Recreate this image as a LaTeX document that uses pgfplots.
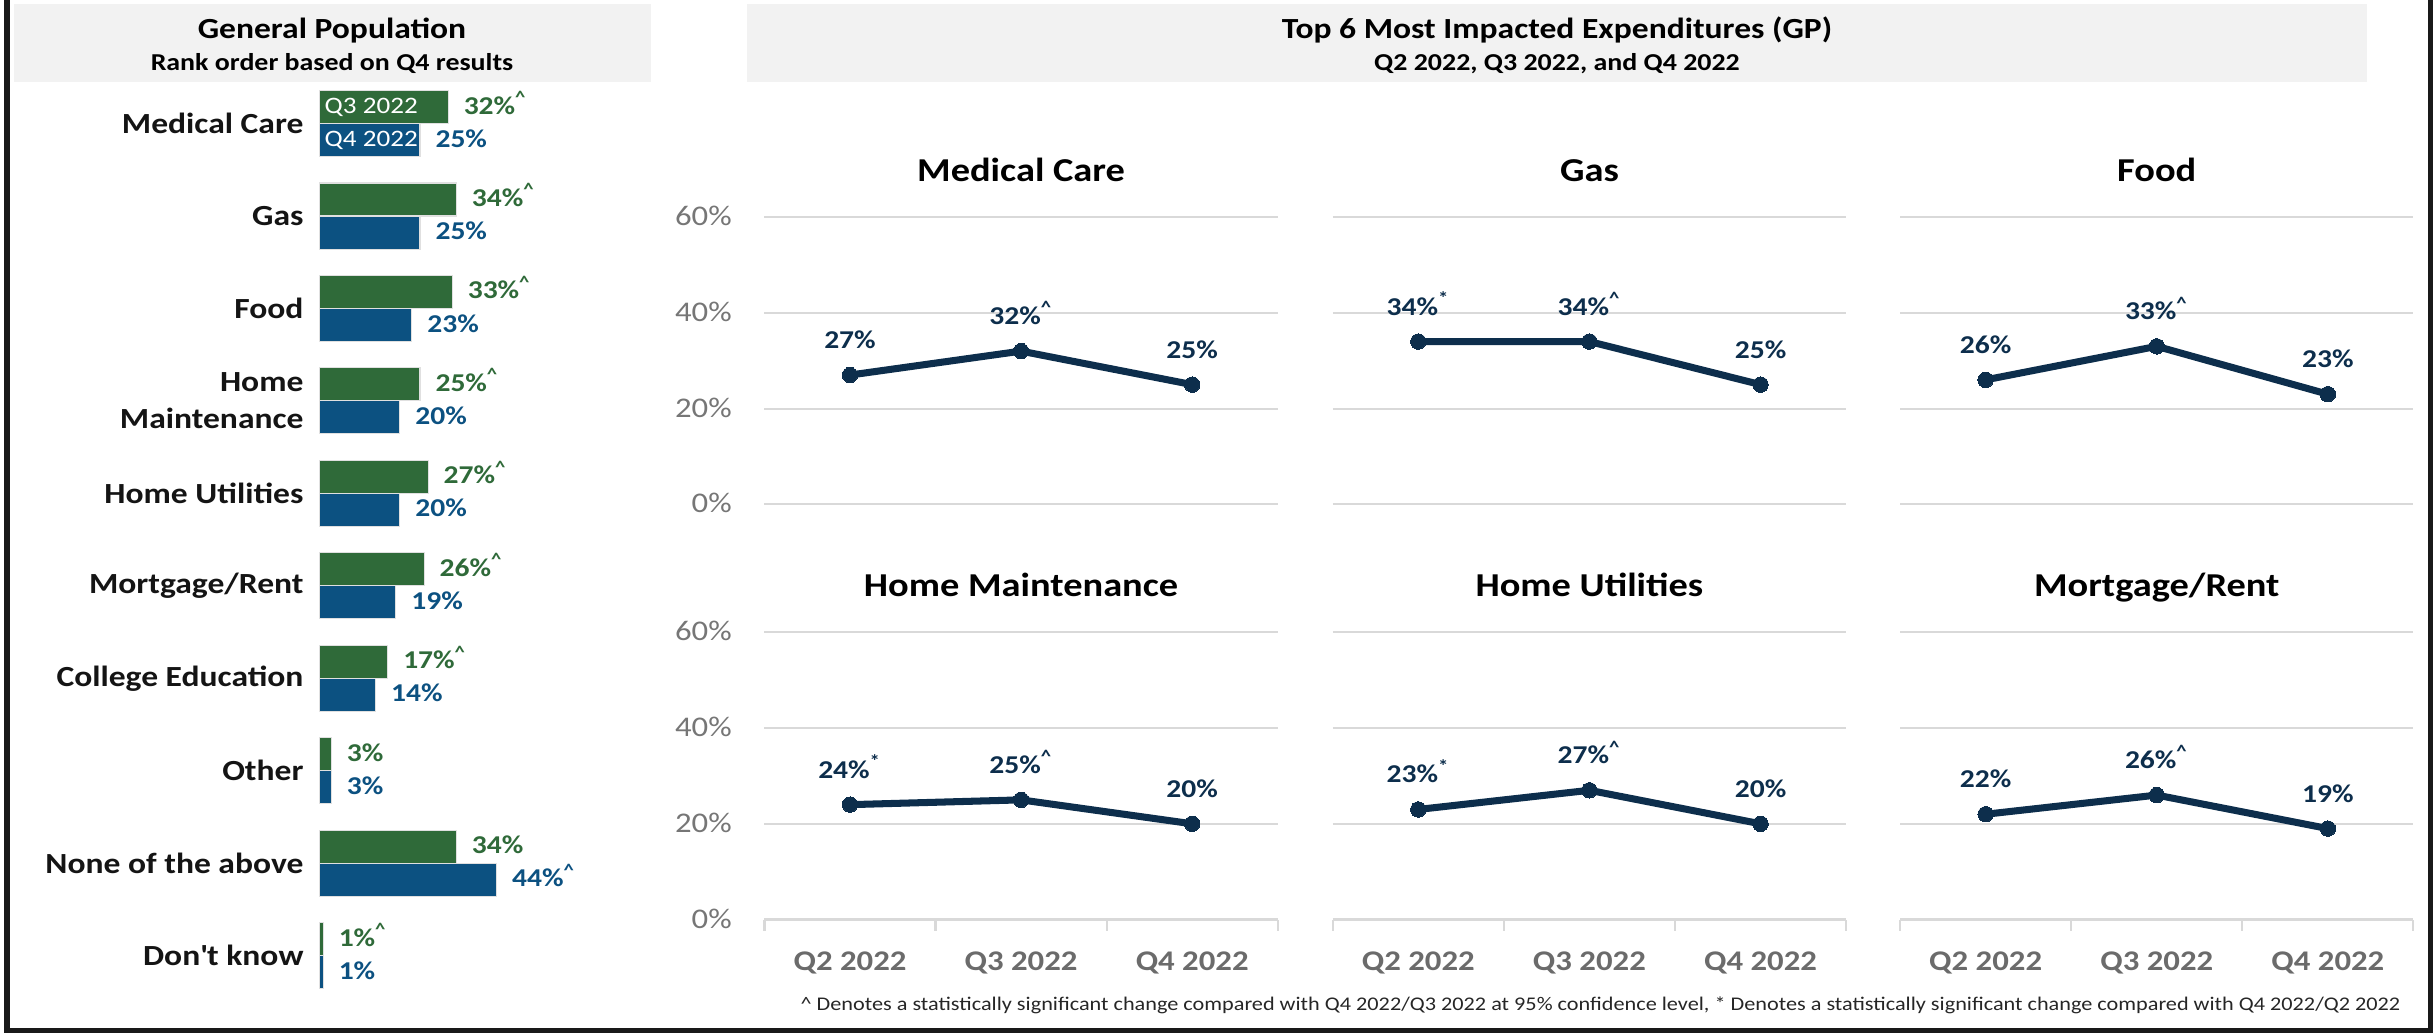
\documentclass[border=0pt]{standalone}
\usepackage{pgfplots}
\pgfplotsset{compat=1.18}
\usepackage{fontspec}
\setmainfont{Carlito}[FakeStretch=1.15]
\definecolor{cgreen}{HTML}{2F6A39}
\definecolor{cblue}{HTML}{0C5181}
\definecolor{cnavy}{HTML}{0D2E4C}
\definecolor{cgrid}{HTML}{D9D9D9}
\definecolor{ctick}{HTML}{767676}
\definecolor{cxtick}{HTML}{6B6B6B}
\definecolor{chead}{HTML}{F2F2F2}
\newcommand{\up}{\textsuperscript{\textasciicircum}}
\newcommand{\st}{\textsuperscript{*}}
\pgfplotsset{
  panel/.style={
    scale only axis, width=5.13cm, height=2.87cm,
    anchor=north west,
    xmin=-0.5, xmax=2.5, ymin=0, ymax=60,
    ytick={0,20,40,60}, yticklabels={},
    xtick={0,1,2}, xticklabels={},
    axis line style={draw=none},
    major tick length=0pt,
    ymajorgrids, grid style={draw=cgrid, line width=0.6pt},
    clip=false,
    nodes near coords, point meta=explicit symbolic,
    every node near coord/.append style={anchor=base, inner sep=0pt, yshift=0.265cm,
      font=\bfseries\fontsize{7.3}{8}\selectfont, text=cnavy},
    title style={at={(0.5,1)}, anchor=base, yshift=0.15cm, inner sep=0pt,
      font=\bfseries\fontsize{9.5}{11}\selectfont, text=black},
  },
  firstcol/.style={
    yticklabels={0\%,20\%,40\%,60\%},
    yticklabel style={anchor=base east, inner sep=0pt, xshift=-0.32cm, yshift=-0.085cm,
      text=ctick, font=\fontsize{8.1}{9}\selectfont},
  },
  bottomrow/.style={
    xticklabels={Q2 2022,Q3 2022,Q4 2022},
    xticklabel style={anchor=base, inner sep=0pt, yshift=-0.51cm,
      font=\bfseries\fontsize{8.1}{9}\selectfont, text=cxtick},
    minor xtick={-0.5,0.5,1.5,2.5}, minor tick length=0.11cm,
    tick align=outside, tick pos=left,
    minor tick style={draw=cgrid, line width=0.6pt},
  },
  lineplot/.style={cnavy, line width=2pt, mark=*, mark size=2.2pt,
    mark options={fill=cnavy, draw=cnavy, line width=0pt}},
}
\begin{document}
\begin{tikzpicture}
\begin{scope}[x=0.01cm, y=-0.01cm]
\path[use as bounding box] (0,0) rectangle (2433,1034);
% header boxes
\fill[chead] (14,4) rectangle (651,82);
\fill[chead] (747,4) rectangle (2367,82);
\node[anchor=base, inner sep=0pt, font=\bfseries\fontsize{8.3}{9}\selectfont] at (332,39) {General Population};
\node[anchor=base, inner sep=0pt, font=\bfseries\fontsize{6.9}{8}\selectfont] at (332,71) {Rank order based on Q4 results};
\node[anchor=base, inner sep=0pt, font=\bfseries\fontsize{8.3}{9}\selectfont] at (1557,39) {Top 6 Most Impacted Expenditures (GP)};
\node[anchor=base, inner sep=0pt, font=\bfseries\fontsize{6.9}{8}\selectfont] at (1557,71) {Q2 2022, Q3 2022, and Q4 2022};
% footnote
\node[anchor=base east, inner sep=0pt, text=black!85, font=\fontsize{5.5}{6}\selectfont] at (2401,1010)
  {\textasciicircum\ Denotes a statistically significant change compared with Q4 2022/Q3 2022 at 95\% confidence level, * Denotes a statistically significant change compared with Q4 2022/Q2 2022};
% frame
\draw[line width=0.05cm, black!90] (7,0) -- (7,1030.5) -- (2430.5,1030.5) -- (2430.5,0);
\end{scope}

% ---------- left bar chart ----------
\begin{axis}[
  at={(3.19cm,-0.773cm)}, anchor=north west,
  scale only axis, width=2.418cm, height=9.24cm,
  xbar, bar shift=0pt, bar width=0.33cm,
  xmin=0, xmax=60, ymin=-0.5, ymax=9.5, y dir=reverse,
  axis line style={draw=none}, xtick=\empty,
  ytick={0,1,2,3,4,5,6,7,8,9},
  yticklabels={Medical Care,Gas,Food,{Home\\Maintenance},Home Utilities,Mortgage/Rent,College Education,Other,None of the above,Don\textquotesingle t know},
  major tick length=0pt,
  yticklabel style={font=\bfseries\fontsize{8.3}{10.5}\selectfont, align=right, inner sep=0pt, anchor=east, xshift=-0.15cm, text=black!92},
  nodes near coords, point meta=explicit symbolic,
  every node near coord/.append style={anchor=base west, inner sep=0pt, xshift=0.15cm, yshift=-0.07cm, font=\bfseries\fontsize{7.3}{8}\selectfont},
  clip=false,
]
\addplot[fill=cgreen, draw=black!12, line width=0.3pt, every node near coord/.append style={text=cgreen}] coordinates {
  (32,-0.1786) [32\%\up]
  (34,0.8214) [34\%\up]
  (33,1.8214) [33\%\up]
  (25,2.8214) [25\%\up]
  (27,3.8214) [27\%\up]
  (26,4.8214) [26\%\up]
  (17,5.8214) [17\%\up]
  (3,6.8214) [3\%]
  (34,7.8214) [34\%]
  (1,8.8214) [1\%\up]
};
\addplot[fill=cblue, draw=black!12, line width=0.3pt, every node near coord/.append style={text=cblue}] coordinates {
  (25,0.1786) [25\%]
  (25,1.1786) [25\%]
  (23,2.1786) [23\%]
  (20,3.1786) [20\%]
  (20,4.1786) [20\%]
  (19,5.1786) [19\%]
  (14,6.1786) [14\%]
  (3,7.1786) [3\%]
  (44,8.1786) [44\%\up]
  (1,9.1786) [1\%]
};
\node[anchor=west, inner sep=0pt, text=white, font=\fontsize{6.7}{7}\selectfont] at (axis cs:1.2,-0.1786) {Q3 2022};
\node[anchor=west, inner sep=0pt, text=white, font=\fontsize{6.7}{7}\selectfont] at (axis cs:1.2,0.1786) {Q4 2022};
\end{axis}

% ---------- top row ----------
\begin{axis}[panel, firstcol, at={(7.64cm,-2.17cm)}, title={Medical Care}]
\addplot[lineplot] coordinates {(0,27)[27\%] (1,32)[32\%\up] (2,25)[25\%]};
\end{axis}
\begin{axis}[panel, at={(13.32cm,-2.17cm)}, title={Gas}]
\addplot[lineplot] coordinates {(0,34)[34\%\st] (1,34)[34\%\up] (2,25)[25\%]};
\end{axis}
\begin{axis}[panel, at={(18.99cm,-2.17cm)}, title={Food}]
\addplot[lineplot] coordinates {(0,26)[26\%] (1,33)[33\%\up] (2,23)[23\%]};
\end{axis}

% ---------- bottom row ----------
\begin{axis}[panel, firstcol, bottomrow, at={(7.64cm,-6.32cm)}, title={Home Maintenance}]
\addplot[lineplot] coordinates {(0,24)[24\%\st] (1,25)[25\%\up] (2,20)[20\%]};
\end{axis}
\begin{axis}[panel, bottomrow, at={(13.32cm,-6.32cm)}, title={Home Utilities}]
\addplot[lineplot] coordinates {(0,23)[23\%\st] (1,27)[27\%\up] (2,20)[20\%]};
\end{axis}
\begin{axis}[panel, bottomrow, at={(18.99cm,-6.32cm)}, title={Mortgage/Rent}]
\addplot[lineplot] coordinates {(0,22)[22\%] (1,26)[26\%\up] (2,19)[19\%]};
\end{axis}
\end{tikzpicture}
\end{document}
